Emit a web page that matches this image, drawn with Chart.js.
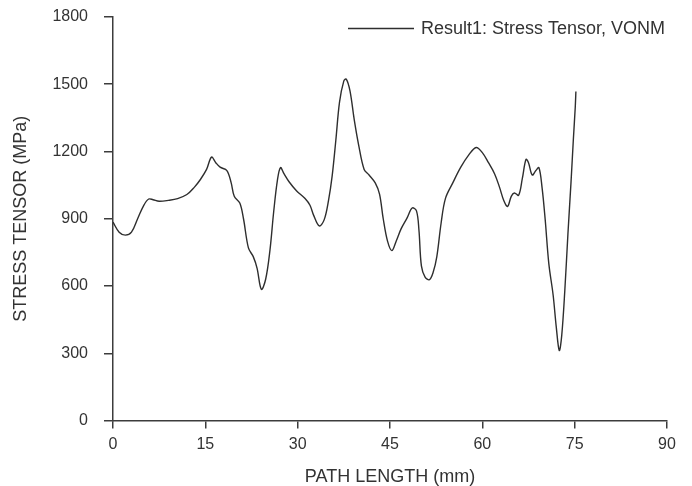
<!DOCTYPE html>
<html>
<head>
<meta charset="utf-8">
<title>Stress Tensor along path</title>
<script src="https://cdn.jsdelivr.net/npm/chart.js@4.4.1/dist/chart.umd.min.js"></script>
<style>
  html, body { margin: 0; padding: 0; background: #fff; }
  #wrap { width: 692px; height: 486px; }
</style>
</head>
<body>
<div id="wrap"><canvas id="stress-chart" width="692" height="486"></canvas></div>
<script>
// Valores (mm, MPa)
const pathLength = [
  0, 1, 2, 3, 4, 5, 5.8, 6.5, 7.5, 9, 10.5, 12, 13.2, 14.2, 15.2, 16, 16.7, 17.4, 18.5, 19.2,
  19.7, 20.6, 21.2, 22, 22.8, 23.4, 24.1, 24.8, 25.5, 26.1, 26.7, 27.2, 27.8, 28.6, 29.8, 31.2,
  32, 32.6, 33.5, 34.3, 35, 35.6, 36.2, 36.8, 37.5, 37.9, 38.5, 39.2, 39.9, 40.8, 41.6, 42.6,
  43.3, 43.9, 44.6, 45.3, 46, 46.8, 47.8, 48.6, 49.3, 49.7, 50.1, 50.7, 51.4, 52, 52.6, 53.3,
  54, 55.2, 56.5, 57.8, 59, 60, 61, 62, 62.8, 63.5, 64.1, 64.7, 65.2, 65.9, 66.5, 67.1, 67.5,
  68.1, 68.7, 69.2, 69.7, 70.2, 70.8, 71.5, 72, 72.5, 72.9, 73.4, 73.9, 74.4, 74.8, 75.1, 75.2
];
const stressVonm = [
  885, 840, 827, 840, 900, 960, 988, 985, 978, 982, 990, 1008, 1040, 1075, 1120, 1175, 1150, 1130, 1115, 1060,
  1000, 970, 900, 770, 730, 680, 585, 630, 760, 930, 1070, 1128, 1100, 1065, 1025, 990,
  960, 915, 868, 895, 980, 1090, 1250, 1420, 1515, 1523, 1470, 1340, 1230, 1120, 1095, 1060,
  1010, 900, 800, 758, 800, 855, 905, 948, 935, 850, 690, 640, 628, 660, 730, 880,
  990, 1060, 1130, 1185, 1218, 1195, 1150, 1100, 1040, 980, 955, 1000, 1015, 1005, 1080, 1165, 1150,
  1095, 1115, 1128, 1040, 900, 700, 560, 420, 312, 380, 580, 830, 1060, 1260, 1400, 1468
];
const xTicks = [0, 15, 30, 45, 60, 75, 90];
const yTicks = [0, 300, 600, 900, 1200, 1500, 1800];
const seriesLabel = "Result1: Stress Tensor, VONM";

const axisColor = "#3c3c3c";
const tickFont = { family: "'Liberation Sans', Arial, sans-serif", size: 16 };
const titleFont = { family: "'Liberation Sans', Arial, sans-serif", size: 18, lineHeight: 1 };

// Legenda desenhada dentro da área do gráfico, canto superior direito
const insideLegend = {
  id: "insideLegend",
  afterDraw(chart) {
    const ctx = chart.ctx;
    const ds = chart.data.datasets[0];
    ctx.save();
    ctx.strokeStyle = ds.borderColor;
    ctx.lineWidth = 1.3;
    ctx.beginPath();
    ctx.moveTo(348, 28.5);
    ctx.lineTo(414, 28.5);
    ctx.stroke();
    ctx.fillStyle = "#333";
    ctx.font = "18px 'Liberation Sans', Arial, sans-serif";
    ctx.textBaseline = "middle";
    ctx.textAlign = "left";
    ctx.fillText(ds.label, 421, 29);
    ctx.restore();
  },
};

const points = pathLength.map((x, i) => ({ x: x, y: stressVonm[i] }));

new Chart(document.getElementById("stress-chart"), {
  type: "line",
  data: {
    datasets: [{
      label: seriesLabel,
      data: points,
      borderColor: "#2e2e2e",
      borderWidth: 1.4,
      pointRadius: 0,
      fill: false,
      tension: 0.35,
    }],
  },
  options: {
    responsive: false,
    animation: false,
    devicePixelRatio: 1,
    layout: { padding: { top: 17, right: 25, left: 0, bottom: 0 } },
    plugins: {
      legend: { display: false },
      tooltip: { enabled: false },
    },
    scales: {
      x: {
        type: "linear",
        min: 0,
        max: 90,
        afterBuildTicks: (scale) => { scale.ticks = xTicks.map(v => ({ value: v })); },
        afterFit: (scale) => { scale.height = 486 - 420.5; },
        border: { display: true, color: axisColor, width: 1.5 },
        grid: { display: true, drawOnChartArea: false, drawTicks: true, tickLength: 8, color: axisColor, lineWidth: 1.5 },
        ticks: { color: "#333", font: tickFont, padding: 6, maxRotation: 0 },
        title: { display: true, text: "PATH LENGTH (mm)", color: "#333", font: titleFont, padding: { top: 0, bottom: 0 } },
      },
      y: {
        min: 0,
        max: 1800,
        afterBuildTicks: (scale) => { scale.ticks = yTicks.map(v => ({ value: v })); },
        afterFit: (scale) => {
          scale.width = 113;
          // o padding dos rótulos não deve empurrar a área do gráfico
          scale.paddingTop = 9;
          scale.paddingBottom = 9;
        },
        border: { display: true, color: axisColor, width: 1.5 },
        grid: { display: true, drawOnChartArea: false, drawTicks: true, tickLength: 9, color: axisColor, lineWidth: 1.5 },
        ticks: { color: "#333", font: tickFont, padding: 16, callback: (v) => String(v) },
        title: { display: true, text: "STRESS TENSOR (MPa)", color: "#333", font: titleFont, padding: { top: 12, bottom: 0 } },
      },
    },
  },
  plugins: [insideLegend],
});
</script>
</body>
</html>
